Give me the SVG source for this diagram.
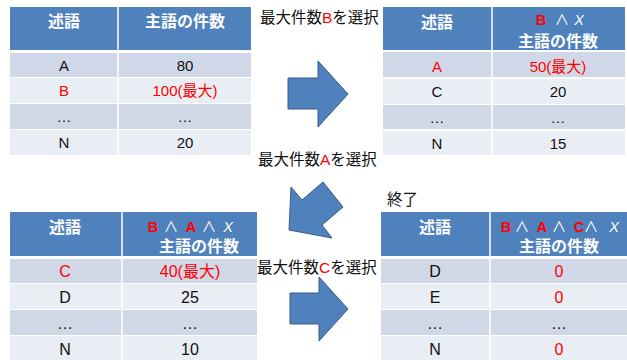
<svg xmlns="http://www.w3.org/2000/svg" width="627" height="360" viewBox="0 0 627 360">
<style>
text{font-family:"Liberation Sans","Noto Sans CJK JP",sans-serif;text-anchor:middle}
.hd{fill:#4F81BD}
.r1{fill:#D0D8E8}
.r2{fill:#E9EDF4}
.div{stroke:#FFFFFF;stroke-width:1.5}
.ht{fill:#FFFFFF;font-size:16px;font-weight:bold}
.hs{font-size:14.5px;font-weight:bold}
.w{fill:#FFFFFF;font-weight:normal}
.it{fill:#FFFFFF;font-style:italic;font-weight:normal}
.c{fill:#111111;font-size:15px}
.c2{fill:#111111;font-size:16px}
.lbl{fill:#111111;font-size:15.5px;text-anchor:start}
.arrow{fill:#4F81BD;stroke:#385D8A;stroke-width:1}
text.red,tspan.red{fill:#FF0000}
</style>
<rect width="627" height="360" fill="#FFFFFF"/>

<g id="table1">
<rect class="hd" x="10" y="7" width="241" height="43"/>
<rect class="r1" x="10" y="53" width="241" height="24"/>
<rect class="r2" x="10" y="78" width="241" height="25"/>
<rect class="r1" x="10" y="104" width="241" height="25"/>
<rect class="r2" x="10" y="130" width="241" height="25"/>
<line class="div" x1="118" y1="7" x2="118" y2="155"/>
<text class="ht" x="64" y="27">述語</text>
<text class="ht" x="185" y="27">主語の件数</text>
<text class="c" x="64" y="71">A</text><text class="c" x="185" y="71">80</text>
<text class="c red" x="64" y="96">B</text><text class="c red" x="185" y="96">100(最大)</text>
<text class="c" x="64" y="122">…</text><text class="c" x="185" y="122">…</text>
<text class="c" x="64" y="148">N</text><text class="c" x="185" y="148">20</text>
</g>

<g id="table2">
<rect class="hd" x="383" y="7" width="242" height="43"/>
<rect class="r1" x="383" y="52" width="242" height="25"/>
<rect class="r2" x="383" y="79" width="242" height="25"/>
<rect class="r1" x="383" y="105" width="242" height="24"/>
<rect class="r2" x="383" y="131" width="242" height="24"/>
<line class="div" x1="492" y1="7" x2="492" y2="155"/>
<text class="ht" x="437" y="28">述語</text>
<text class="hs red" x="541" y="25">B</text>
<text class="hs w" x="562" y="25">∧</text>
<text class="hs it" x="579" y="25">X</text>
<text class="ht" x="558" y="47">主語の件数</text>
<text class="c red" x="437" y="72">A</text><text class="c red" x="558" y="72">50(最大)</text>
<text class="c" x="437" y="97">C</text><text class="c" x="558" y="97">20</text>
<text class="c" x="437" y="123">…</text><text class="c" x="558" y="123">…</text>
<text class="c" x="437" y="149">N</text><text class="c" x="558" y="149">15</text>
</g>

<g id="table3">
<rect class="hd" x="10" y="212" width="247" height="44"/>
<rect class="r1" x="10" y="259" width="247" height="24"/>
<rect class="r2" x="10" y="284" width="247" height="25"/>
<rect class="r1" x="10" y="310" width="247" height="25"/>
<rect class="r2" x="10" y="336" width="247" height="24"/>
<line class="div" x1="122" y1="212" x2="122" y2="360"/>
<text class="ht" x="65" y="233">述語</text>
<text class="hs red" x="153" y="232">B</text>
<text class="hs w" x="171" y="232">∧</text>
<text class="hs red" x="191" y="232">A</text>
<text class="hs w" x="209" y="232">∧</text>
<text class="hs it" x="228" y="232">X</text>
<text class="ht" x="199" y="252">主語の件数</text>
<text class="c2 red" x="65" y="277">C</text><text class="c2 red" x="190" y="277">40(最大)</text>
<text class="c2" x="65" y="303">D</text><text class="c2" x="190" y="303">25</text>
<text class="c2" x="65" y="329">…</text><text class="c2" x="190" y="329">…</text>
<text class="c2" x="65" y="355">N</text><text class="c2" x="190" y="355">10</text>
</g>

<g id="table4">
<rect class="hd" x="381" y="212" width="246" height="44"/>
<rect class="r1" x="381" y="259" width="246" height="24"/>
<rect class="r2" x="381" y="284" width="246" height="25"/>
<rect class="r1" x="381" y="310" width="246" height="25"/>
<rect class="r2" x="381" y="336" width="246" height="24"/>
<line class="div" x1="490" y1="212" x2="490" y2="360"/>
<text class="ht" x="435" y="233">述語</text>
<text class="hs red" x="506" y="232">B</text>
<text class="hs w" x="522" y="232">∧</text>
<text class="hs red" x="542" y="232">A</text>
<text class="hs w" x="559" y="232">∧</text>
<text class="hs red" x="579" y="232">C</text>
<text class="hs w" x="591" y="232">∧</text>
<text class="hs it" x="614" y="232">X</text>
<text class="ht" x="559" y="252">主語の件数</text>
<text class="c2" x="435" y="277">D</text><text class="c2 red" x="559" y="277">0</text>
<text class="c2" x="435" y="303">E</text><text class="c2 red" x="559" y="303">0</text>
<text class="c2" x="435" y="329">…</text><text class="c2" x="559" y="329">…</text>
<text class="c2" x="435" y="355">N</text><text class="c2 red" x="559" y="355">0</text>
</g>

<g id="connectors">
<polygon class="arrow" points="288,78 318,78 318,61 348,94 318,127 318,109 288,109"/>
<polygon class="arrow" points="289,230 291,187 302,200 323,182 343,207 322,225 332,238"/>
<polygon class="arrow" points="290,293 319,293 319,277 348,309 319,341 319,324 290,324"/>
<text class="lbl" x="260" y="23">最大件数<tspan class="red">B</tspan>を選択</text>
<text class="lbl" x="258" y="165">最大件数<tspan class="red">A</tspan>を選択</text>
<text class="lbl" x="257" y="273">最大件数<tspan class="red">C</tspan>を選択</text>
<text class="lbl" x="387" y="205">終了</text>
</g>
</svg>
